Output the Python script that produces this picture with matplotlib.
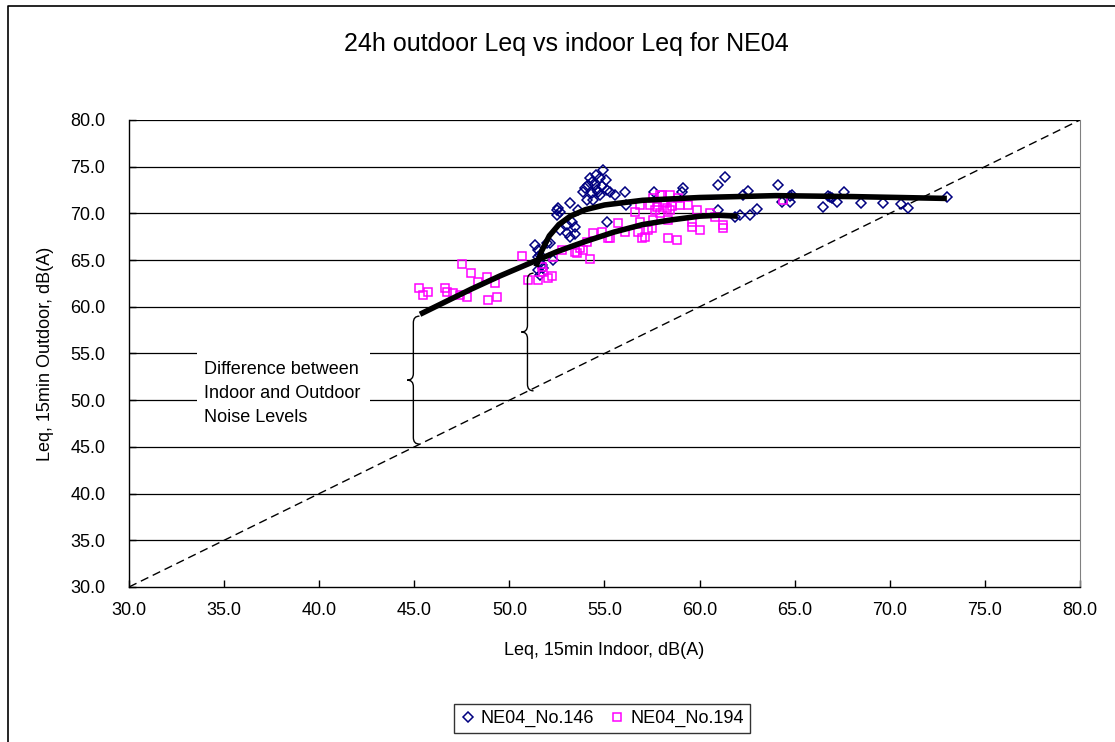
import matplotlib
matplotlib.use("Agg")
import matplotlib.pyplot as plt
from matplotlib.path import Path
from matplotlib.patches import PathPatch, Rectangle
from matplotlib.lines import Line2D

plt.rcParams['font.family'] = ['Liberation Sans', 'DejaVu Sans']

# NE04_No.146 (indoor, outdoor)
no146_x = [51.35, 51.61, 51.61, 51.77, 51.50, 51.50, 51.71, 52.29, 51.98, 52.13,
           52.50, 52.55, 52.66, 52.50, 53.19, 52.66, 53.03, 53.29, 53.45, 53.03,
           53.19, 55.13, 53.87, 54.13, 54.34, 54.76, 54.92, 55.08, 54.34, 54.61,
           55.13, 55.55, 56.08, 56.13, 54.08, 54.40, 57.60, 59.13, 59.07, 60.97,
           61.34, 62.28, 62.54, 60.97, 61.86, 62.12, 62.65, 63.02, 64.12, 64.33,
           64.86, 64.75, 66.86, 66.49, 67.22, 67.59, 68.49, 69.64, 70.59, 70.96,
           73.01, 66.75, 66.96, 64.75, 54.50, 54.66, 54.24, 54.87, 54.55, 53.98,
           54.76, 55.29, 51.50, 51.61, 53.61, 53.45]
no146_y = [66.60, 65.55, 64.69, 64.15, 66.08, 65.33, 64.47, 65.01, 66.83, 66.83,
           70.36, 70.58, 70.15, 69.83, 71.11, 68.22, 68.76, 69.08, 68.54, 67.90,
           67.47, 69.08, 72.29, 73.04, 73.36, 73.79, 74.65, 73.58, 72.18, 72.51,
           72.51, 71.97, 72.29, 70.90, 71.43, 71.43, 72.29, 72.72, 72.29, 73.04,
           73.90, 71.97, 72.40, 70.36, 69.61, 69.83, 69.83, 70.47, 73.04, 71.22,
           71.97, 71.22, 71.76, 70.69, 71.22, 72.29, 71.11, 71.11, 71.01, 70.58,
           71.76, 71.86, 71.65, 71.86, 73.04, 72.29, 73.79, 72.93, 74.11, 72.72,
           71.97, 72.29, 63.94, 63.40, 70.36, 67.80]

# NE04_No.194 (indoor, outdoor)
no194_x = [45.25, 45.72, 45.46, 46.61, 46.72, 47.03, 47.40, 47.77, 47.51, 47.98,
           48.35, 48.82, 49.24, 48.87, 49.35, 50.66, 50.98, 51.50, 52.03, 51.71,
           51.77, 52.77, 53.45, 53.87, 54.24, 54.08, 54.40, 54.87, 55.18, 55.71,
           56.08, 56.76, 56.87, 57.29, 57.50, 56.97, 57.13, 56.60, 56.87, 57.39,
           57.76, 57.55, 58.02, 58.08, 58.29, 58.34, 58.81, 58.34, 58.86, 58.97,
           59.39, 59.60, 59.60, 60.02, 59.86, 60.55, 60.81, 61.23, 61.23, 57.55,
           57.92, 58.44, 57.92, 58.44, 64.38, 58.18, 58.55, 57.66, 52.24, 52.29,
           53.55, 53.71, 55.29]
no194_y = [62.01, 61.58, 61.26, 62.01, 61.58, 61.48, 61.26, 61.05, 64.58, 63.62,
           62.66, 63.19, 62.55, 60.73, 61.05, 65.44, 62.87, 62.87, 63.08, 64.26,
           63.73, 66.08, 65.87, 66.08, 65.12, 66.94, 67.90, 68.01, 67.37, 68.97,
           68.01, 68.01, 69.08, 68.22, 68.44, 67.37, 67.47, 70.15, 70.90, 70.90,
           70.69, 71.65, 71.97, 71.22, 70.58, 69.29, 67.15, 67.37, 71.65, 70.90,
           70.90, 69.08, 68.54, 68.22, 70.36, 70.04, 69.61, 68.76, 68.44, 69.29,
           70.04, 70.36, 71.97, 71.97, 71.43, 71.11, 70.79, 70.36, 63.30, 65.33,
           65.76, 66.30, 67.37]

# trend lines
trend146_x = [51.4, 51.7, 52.1, 52.6, 53.2, 54.0, 55.0, 57.0, 60.0, 64.0, 68.0, 73.0]
trend146_y = [64.3, 66.0, 67.6, 68.8, 69.7, 70.4, 70.9, 71.4, 71.7, 71.9, 71.8, 71.6]
trend194_x = [45.3, 46.5, 48.0, 49.5, 51.0, 52.5, 54.0, 55.5, 57.0, 58.5, 60.0, 61.0, 62.0]
trend194_y = [59.2, 60.4, 61.9, 63.3, 64.6, 65.9, 67.0, 68.0, 68.8, 69.3, 69.7, 69.8, 69.7]

equal_line = [30.0, 80.0]
ticks = [30.0, 35.0, 40.0, 45.0, 50.0, 55.0, 60.0, 65.0, 70.0, 75.0, 80.0]


def brace(ax, x, y0, y1, w, r):
    # left-pointing curly brace from y0 (bottom) to y1 (top)
    ym = (y0 + y1) / 2.0
    verts = [(x + w, y1), (x, y1), (x, y1 - r),
             (x, ym + r),
             (x, ym), (x - w, ym),
             (x, ym), (x, ym - r),
             (x, y0 + r),
             (x, y0), (x + w, y0)]
    codes = [Path.MOVETO, Path.CURVE3, Path.CURVE3,
             Path.LINETO,
             Path.CURVE3, Path.CURVE3,
             Path.CURVE3, Path.CURVE3,
             Path.LINETO,
             Path.CURVE3, Path.CURVE3]
    ax.add_patch(PathPatch(Path(verts, codes), fill=False, edgecolor='black', lw=1.0, zorder=4))


fig = plt.figure(figsize=(11.15, 7.42), dpi=100)
ax = fig.add_axes([0.1157, 0.2089, 0.8529, 0.6294])

ax.set_xlim(30, 80)
ax.set_ylim(30, 80)
ax.set_xticks(ticks)
ax.set_yticks(ticks)
ax.set_xticklabels(["%.1f" % t for t in ticks])
ax.set_yticklabels(["%.1f" % t for t in ticks])
ax.tick_params(direction='in', length=5, width=1, labelsize=13, colors='black')
ax.tick_params(axis='y', pad=17)
ax.tick_params(axis='x', pad=11)

for t in ticks[1:]:
    ax.axhline(t, color='black', lw=0.9, zorder=1)
ax.spines['top'].set_visible(False)
ax.spines['right'].set_color('#808080')
ax.spines['left'].set_linewidth(1.0)
ax.spines['bottom'].set_linewidth(1.0)

ax.plot(equal_line, equal_line, color='black', lw=1.0, dashes=(6, 3.5), zorder=2)

ax.plot(no146_x, no146_y, linestyle='none', marker='D', ms=4.8, mfc='none',
        mec='#000080', mew=1.1, label='NE04_No.146', zorder=3)
ax.plot(no194_x, no194_y, linestyle='none', marker='s', ms=6.3, mfc='none',
        mec='#FF00FF', mew=1.1, label='NE04_No.194', zorder=3)

ax.plot(trend146_x, trend146_y, color='black', lw=4, solid_capstyle='butt', zorder=5)
ax.plot(trend194_x, trend194_y, color='black', lw=4, solid_capstyle='butt', zorder=5)

brace(ax, 44.95, 45.3, 59.0, 0.32, 0.7)
brace(ax, 50.95, 51.0, 63.6, 0.32, 0.7)

ax.add_patch(Rectangle((33.6, 45.8), 9.05, 9.8, facecolor='white', edgecolor='none', zorder=2))
ax.text(33.95, 50.7, "Difference between\nIndoor and Outdoor\nNoise Levels", fontsize=13,
        ha='left', va='center', linespacing=1.55, zorder=3)

# title placed in figure coords
fig.text(566 / 1115, 1 - 44 / 742, "24h outdoor Leq vs indoor Leq for NE04", fontsize=18,
         ha='center', va='center')

ax.set_xlabel("Leq, 15min Indoor, dB(A)", fontsize=13)
ax.xaxis.set_label_coords(0.5, -0.135)
ax.xaxis.label.set_va('center')
ax.set_ylabel("Leq, 15min Outdoor, dB(A)", fontsize=13)
ax.yaxis.set_label_coords(-0.0883, 0.5)
ax.yaxis.label.set_va('center')

leg = ax.legend(loc='center', bbox_to_anchor=(0.540, 0.0317), bbox_transform=fig.transFigure,
                ncol=2, fontsize=13, frameon=True, fancybox=False, handlelength=0.8,
                handletextpad=0.3, columnspacing=0.9, borderpad=0.35)
leg.get_frame().set_edgecolor('black')
leg.get_frame().set_linewidth(1.0)

# chart area border (left and top edges visible)
fig.add_artist(Line2D([8 / 1115, 8 / 1115, 1.0], [0.0, 1 - 6 / 742, 1 - 6 / 742],
                      transform=fig.transFigure, color='black', lw=1.2))

fig.savefig("out.png", dpi=100)
